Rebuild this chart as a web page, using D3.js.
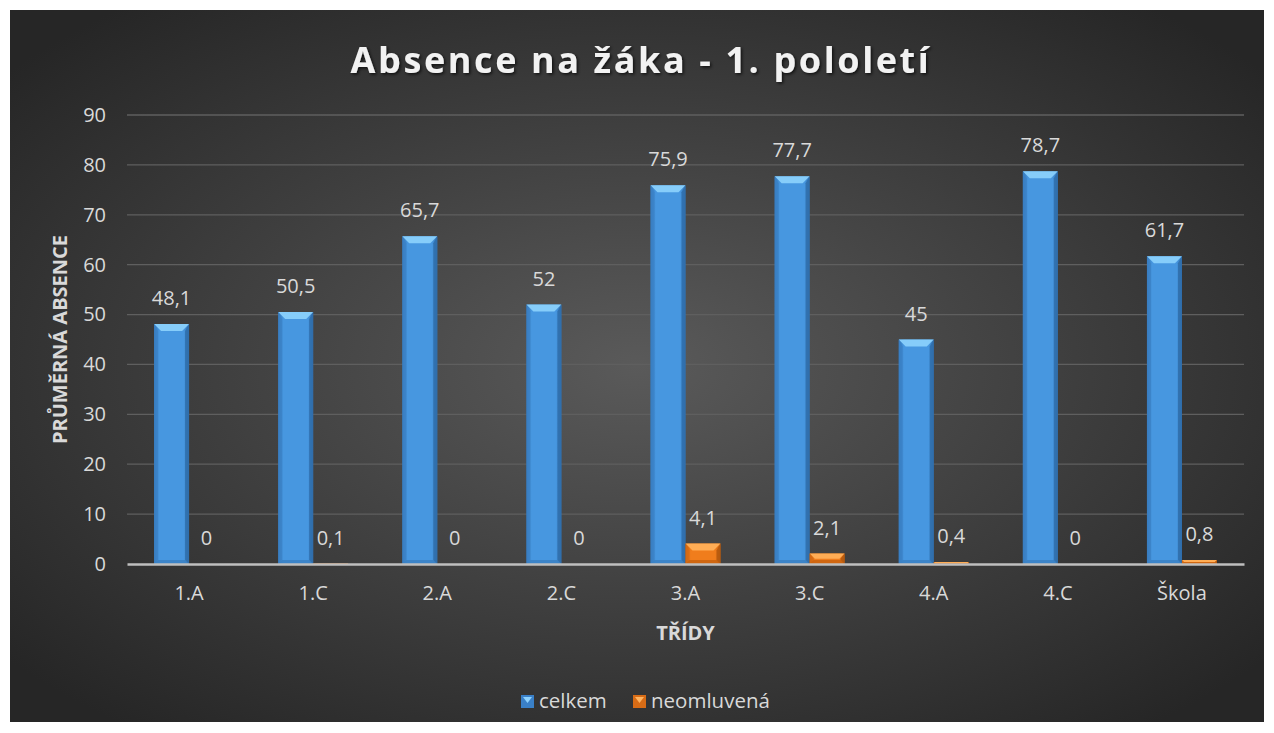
<!DOCTYPE html>
<html>
<head>
<meta charset="utf-8">
<script src="https://cdn.jsdelivr.net/npm/d3@7"></script>
<style>
  body { margin: 0; background: #fff; }
  text { font-family: "Open Sans", sans-serif; }
</style>
</head>
<body>
<svg id="chart"></svg>
<script>
const tridy = ["1.A", "1.C", "2.A", "2.C", "3.A", "3.C", "4.A", "4.C", "Škola"];
const celkem = [48.1, 50.5, 65.7, 52, 75.9, 77.7, 45, 78.7, 61.7];
const neomluvena = [0, 0.1, 0, 0, 4.1, 2.1, 0.4, 0, 0.8];
const seriesNames = ["celkem", "neomluvená"];
const yTicks = [0, 10, 20, 30, 40, 50, 60, 70, 80, 90];

const W = 1274, H = 733;
const plot = {left: 127, right: 1244, top: 115, bottom: 564};

const svg = d3.select("#chart").attr("width", W).attr("height", H);
const defs = svg.append("defs");

// background
const bg = defs.append("radialGradient").attr("id", "bg")
  .attr("cx", "50%").attr("cy", "50%").attr("r", "65%");
bg.append("stop").attr("offset", "0%").attr("stop-color", "#5a5a5a");
bg.append("stop").attr("offset", "100%").attr("stop-color", "#262626");

function barGrad(id, edge, mid) {
  const g = defs.append("linearGradient").attr("id", id)
    .attr("x1", "0%").attr("x2", "100%").attr("y1", "0%").attr("y2", "0%");
  g.append("stop").attr("offset", "0%").attr("stop-color", edge);
  g.append("stop").attr("offset", "15%").attr("stop-color", mid);
  g.append("stop").attr("offset", "85%").attr("stop-color", mid);
  g.append("stop").attr("offset", "100%").attr("stop-color", edge);
}
barGrad("gBlue", "#3577b8", "#4797e0");
barGrad("gOrange", "#c8640f", "#f07d1c");

const shadow = defs.append("filter").attr("id", "tshadow")
  .attr("x", "-10%").attr("y", "-30%").attr("width", "120%").attr("height", "160%");
shadow.append("feDropShadow").attr("dx", 1.5).attr("dy", 1.5).attr("stdDeviation", 1.5)
  .attr("flood-color", "#000").attr("flood-opacity", 0.7);

svg.append("rect").attr("x", 10).attr("y", 10).attr("width", 1254).attr("height", 712)
  .attr("fill", "url(#bg)");

// title
svg.append("text").attr("x", 641).attr("y", 73).attr("text-anchor", "middle")
  .attr("fill", "#f2f2f2").attr("font-size", 36).attr("font-weight", 700)
  .attr("letter-spacing", 2.6).attr("filter", "url(#tshadow)")
  .text("Absence na žáka - 1. pololetí");

const x = d3.scaleBand().domain(tridy).range([plot.left, plot.right]);
const xs = d3.scaleBand().domain(seriesNames).range([0, 70]);
const y = d3.scaleLinear().domain([0, 90]).range([plot.bottom, plot.top]);

// gridlines
svg.append("g").selectAll("line").data(yTicks.slice(1)).join("line")
  .attr("x1", plot.left).attr("x2", plot.right)
  .attr("y1", d => y(d)).attr("y2", d => y(d))
  .attr("stroke", "#5f5f5f").attr("stroke-width", 1.3);

// y axis labels
const yAxis = svg.append("g").attr("transform", `translate(${plot.left},0)`)
  .call(d3.axisLeft(y).tickValues(yTicks).tickSize(0).tickPadding(21));
yAxis.select(".domain").remove();
yAxis.selectAll("text").attr("fill", "#d9d9d9").attr("font-size", 20)
  .style("font-family", "Open Sans, sans-serif");

const fmt = v => String(v).replace(".", ",");

const data = tridy.map((t, i) => ({t, vals: [
  {s: seriesNames[0], v: celkem[i]},
  {s: seriesNames[1], v: neomluvena[i]}
]}));

const groups = svg.append("g").selectAll("g").data(data).join("g")
  .attr("transform", d => `translate(${x(d.t) + x.bandwidth() / 2 - 35},0)`);

const bars = groups.selectAll("g.bar").data(d => d.vals).join("g").attr("class", "bar");

const bw = xs.bandwidth();
bars.each(function(d) {
  const g = d3.select(this);
  const x0 = xs(d.s), y0 = y(d.v), h = y(0) - y(d.v);
  const blue = d.s === seriesNames[0];
  if (h <= 0) return;
  g.append("rect").attr("x", x0).attr("y", y0).attr("width", bw).attr("height", h)
    .attr("fill", blue ? "url(#gBlue)" : "url(#gOrange)");
  const b = Math.min(7, h / 2);
  const s = Math.min(4, h / 2);
  // top bevel
  g.append("polygon")
    .attr("points", [[x0, y0], [x0 + bw, y0], [x0 + bw - b, y0 + b], [x0 + b, y0 + b]].join(" "))
    .attr("fill", blue ? "#86cdfa" : "#ffad55");
  // bottom bevel
  g.append("polygon")
    .attr("points", [[x0, y0 + h], [x0 + bw, y0 + h], [x0 + bw - s, y0 + h - s], [x0 + s, y0 + h - s]].join(" "))
    .attr("fill", blue ? "#3a7fc2" : "#c8620f").attr("opacity", 0.8);
  // side edges
  g.append("polygon")
    .attr("points", [[x0, y0], [x0 + s, y0 + b], [x0 + s, y0 + h - s], [x0, y0 + h]].join(" "))
    .attr("fill", blue ? "#3a80c4" : "#d46a14").attr("opacity", 0.7);
  g.append("polygon")
    .attr("points", [[x0 + bw, y0], [x0 + bw - s, y0 + b], [x0 + bw - s, y0 + h - s], [x0 + bw, y0 + h]].join(" "))
    .attr("fill", blue ? "#2e6ca8" : "#b0560e").attr("opacity", 0.8);
});

// value labels
bars.append("text")
  .attr("x", d => xs(d.s) + bw / 2)
  .attr("y", d => y(d.v) - 19)
  .attr("text-anchor", "middle")
  .attr("fill", "#d9d9d9").attr("font-size", 20)
  .text(d => fmt(d.v));

// x axis
const xAxis = svg.append("g").attr("transform", `translate(0,${plot.bottom})`)
  .call(d3.axisBottom(x).tickSize(0).tickPadding(22));
xAxis.select(".domain").attr("stroke", "#bfbfbf").attr("stroke-width", 2.5);
xAxis.selectAll("text").attr("fill", "#d9d9d9").attr("font-size", 20)
  .style("font-family", "Open Sans, sans-serif");

// axis titles
svg.append("text").attr("x", (plot.left + plot.right) / 2).attr("y", 640)
  .attr("text-anchor", "middle").attr("fill", "#d9d9d9")
  .attr("font-size", 20).attr("font-weight", 700).text("TŘÍDY");
svg.append("text")
  .attr("transform", `translate(67,${(plot.top + plot.bottom) / 2}) rotate(-90)`)
  .attr("text-anchor", "middle").attr("fill", "#d9d9d9")
  .attr("font-size", 20).attr("font-weight", 700).text("PRŮMĚRNÁ ABSENCE");

// legend
const legend = svg.append("g").attr("transform", "translate(521,695)");
const legX = [0, 112];
seriesNames.forEach((s, i) => {
  const g = legend.append("g").attr("transform", `translate(${legX[i]},0)`);
  const blue = i === 0;
  g.append("rect").attr("width", 13).attr("height", 13)
    .attr("fill", blue ? "#3a80c8" : "#d86c16");
  g.append("polygon").attr("points", "2,2 11,2 6.5,8")
    .attr("fill", blue ? "#8fd3ff" : "#ffb460");
  g.append("text").attr("x", 18).attr("y", 13).attr("fill", "#d9d9d9")
    .attr("font-size", 20.5).text(s);
});
</script>
</body>
</html>
